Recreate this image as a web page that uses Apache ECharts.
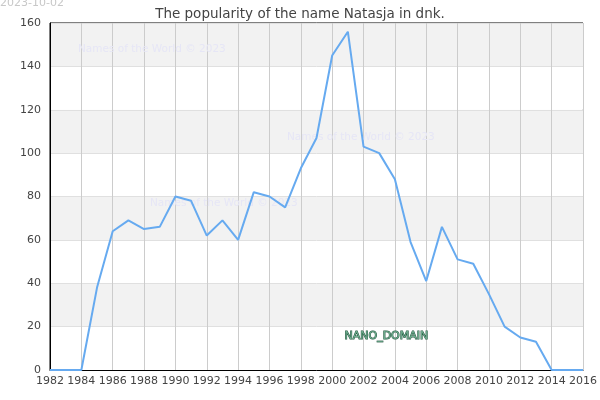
<!DOCTYPE html>
<html>
<head>
<meta charset="utf-8">
<script src="https://cdn.jsdelivr.net/npm/echarts@6/dist/echarts.min.js"></script>
<style>html,body{margin:0;padding:0;background:#fff}#c{width:600px;height:400px}</style>
</head>
<body>
<div id="c"></div>
<script>
const years = [1982,1983,1984,1985,1986,1987,1988,1989,1990,1991,1992,1993,1994,1995,1996,1997,1998,1999,2000,2001,2002,2003,2004,2005,2006,2007,2008,2009,2010,2011,2012,2013,2014,2015,2016];
const values = [0,0,0,38,64,69,65,66,80,78,62,69,60,82,80,75,93,107,145,156,103,100,88,59,41,66,51,49,35,20,15,13,0,0,0];
const titleText = 'The popularity of the name Natasja in dnk.';
const dateText = '2023-10-02';
const watermarkText = 'Names of the World © 2023';
const domainText = 'NANO_DOMAIN';

const chart = echarts.init(document.getElementById('c'), null, {renderer:'canvas'});
const font = 'DejaVu Sans';
chart.setOption({
  animation:false,
  textStyle:{fontFamily:font},
  title:{text:titleText,left:'center',top:2,textStyle:{fontSize:13.5,fontWeight:'normal',color:'#444',fontFamily:font}},
  grid:{left:50,right:15,top:23,bottom:30,show:true,borderColor:'#000',borderWidth:1,backgroundColor:'transparent'},
  xAxis:{type:'value',min:1982,max:2016,interval:2,
    axisLine:{show:true,lineStyle:{color:'#000'}},axisTick:{show:false},
    axisLabel:{color:'#444',fontSize:11,margin:6,fontFamily:font,formatter:v=>String(v)},
    splitLine:{show:true,lineStyle:{color:'#cccccc',width:1}}},
  yAxis:{type:'value',min:0,max:160,interval:20,
    axisLine:{show:true,lineStyle:{color:'#000'}},axisTick:{show:false},
    axisLabel:{color:'#444',fontSize:11,margin:9,fontFamily:font},
    splitLine:{show:true,lineStyle:{color:'#e0e0e0',width:1}},
    splitArea:{show:true,areaStyle:{color:['#ffffff','#f2f2f2']}}},
  graphic:[
    {type:'text',z:100,left:0,top:-2,style:{text:dateText,fill:'#c8c8c8',font:'11px '+font}},
    {type:'text',z:1,left:78,top:44,style:{text:watermarkText,fill:'#e6e6f6',font:'10.5px '+font}},
    {type:'text',z:1,left:287,top:132,style:{text:watermarkText,fill:'#e6e6f6',font:'10.5px '+font}},
    {type:'text',z:1,left:150,top:198,style:{text:watermarkText,fill:'#e6e6f6',font:'10.5px '+font}},
    {type:'text',z:100,left:344,top:330,style:{text:domainText,fill:'#6fae8f',stroke:'#24553f',lineWidth:1,font:'11px '+font}}
  ],
  series:[{type:'line',data:years.map((y,i)=>[y,values[i]]),showSymbol:false,z:50,
    lineStyle:{color:'#66aaf0',width:2},itemStyle:{color:'#66aaf0'}}]
});
</script>
</body>
</html>
